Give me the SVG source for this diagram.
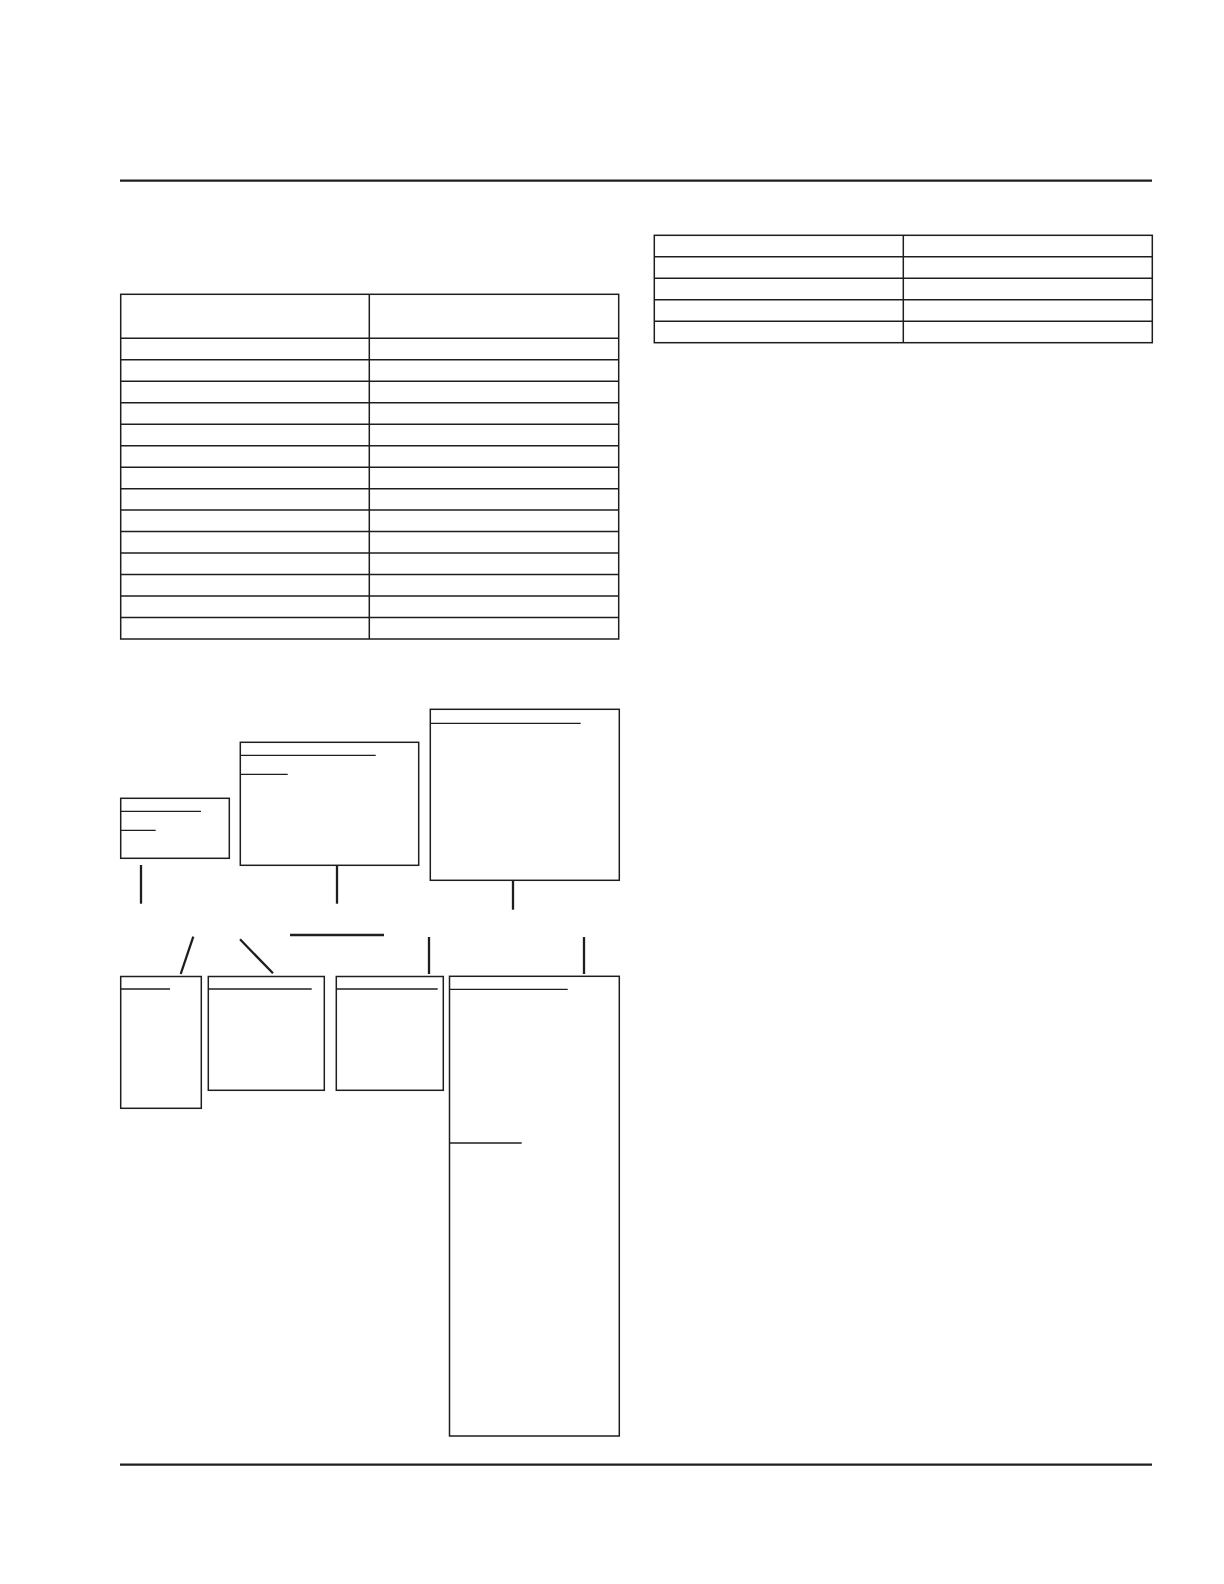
<svg xmlns="http://www.w3.org/2000/svg" width="1224" height="1584" viewBox="0 0 1224 1584">
<style>
.t{fill:none;stroke:#1e1e1e;stroke-width:1.5}
.b{fill:#fff;stroke:#1e1e1e;stroke-width:1.5}
.u{stroke:#1e1e1e;stroke-width:1.3}
.c{stroke:#1e1e1e;stroke-width:2.3}
.r{stroke:#1e1e1e;stroke-width:2.2}
</style>
<rect width="1224" height="1584" fill="#fff"/>
<g id="rules">
<line class="r" x1="120" y1="180.7" x2="1152" y2="180.7"/>
<line class="r" x1="120" y1="1464.7" x2="1152" y2="1464.7"/>
</g>
<g id="table-left">
<rect class="t" x="120.7" y="294.3" width="498" height="344.7"/>
<line class="t" x1="369.3" y1="294.3" x2="369.3" y2="639"/>
<line class="t" x1="120.7" y1="338.3" x2="618.7" y2="338.3"/>
<line class="t" x1="120.7" y1="359.8" x2="618.7" y2="359.8"/>
<line class="t" x1="120.7" y1="381.3" x2="618.7" y2="381.3"/>
<line class="t" x1="120.7" y1="402.7" x2="618.7" y2="402.7"/>
<line class="t" x1="120.7" y1="424.2" x2="618.7" y2="424.2"/>
<line class="t" x1="120.7" y1="445.7" x2="618.7" y2="445.7"/>
<line class="t" x1="120.7" y1="467.2" x2="618.7" y2="467.2"/>
<line class="t" x1="120.7" y1="488.7" x2="618.7" y2="488.7"/>
<line class="t" x1="120.7" y1="510.1" x2="618.7" y2="510.1"/>
<line class="t" x1="120.7" y1="531.6" x2="618.7" y2="531.6"/>
<line class="t" x1="120.7" y1="553.1" x2="618.7" y2="553.1"/>
<line class="t" x1="120.7" y1="574.6" x2="618.7" y2="574.6"/>
<line class="t" x1="120.7" y1="596.0" x2="618.7" y2="596.0"/>
<line class="t" x1="120.7" y1="617.5" x2="618.7" y2="617.5"/>
</g>
<g id="table-right">
<rect class="t" x="654.3" y="235.3" width="498" height="107.4"/>
<line class="t" x1="903.3" y1="235.3" x2="903.3" y2="342.7"/>
<line class="t" x1="654.3" y1="256.8" x2="1152.3" y2="256.8"/>
<line class="t" x1="654.3" y1="278.3" x2="1152.3" y2="278.3"/>
<line class="t" x1="654.3" y1="299.8" x2="1152.3" y2="299.8"/>
<line class="t" x1="654.3" y1="321.2" x2="1152.3" y2="321.2"/>
</g>
<g id="connectors">
<line class="c" x1="141" y1="865" x2="141" y2="903.7"/>
<line class="c" x1="337" y1="865.3" x2="337" y2="903.7"/>
<line class="c" x1="513" y1="880.3" x2="513" y2="909.7"/>
<line class="c" x1="290" y1="935" x2="384" y2="935"/>
<line class="c" x1="193.3" y1="936.7" x2="180.7" y2="974"/>
<line class="c" x1="240" y1="939.3" x2="273" y2="973.3"/>
<line class="c" x1="429" y1="937" x2="429" y2="974"/>
<line class="c" x1="584" y1="937" x2="584" y2="974"/>
</g>
<g id="node-top-small">
<rect class="b" x="120.7" y="798.3" width="108.6" height="60"/>
<line class="u" x1="120.7" y1="811.3" x2="201" y2="811.3"/>
<line class="u" x1="120.7" y1="830.3" x2="155.7" y2="830.3"/>
</g>
<g id="node-top-middle">
<rect class="b" x="240.3" y="742.3" width="178.4" height="123"/>
<line class="u" x1="240.3" y1="755.3" x2="375.7" y2="755.3"/>
<line class="u" x1="240.3" y1="774.3" x2="287.7" y2="774.3"/>
</g>
<g id="node-top-right">
<rect class="b" x="430.3" y="709.3" width="189" height="171"/>
<line class="u" x1="430.3" y1="723.3" x2="580.7" y2="723.3"/>
</g>
<g id="node-bottom-a">
<rect class="b" x="120.7" y="976.5" width="80.6" height="131.8"/>
<line class="u" x1="120.7" y1="989" x2="170" y2="989"/>
</g>
<g id="node-bottom-b">
<rect class="b" x="208.3" y="976.5" width="116" height="113.8"/>
<line class="u" x1="208.3" y1="989" x2="311.7" y2="989"/>
</g>
<g id="node-bottom-c">
<rect class="b" x="336.3" y="976.5" width="107" height="113.8"/>
<line class="u" x1="336.3" y1="989" x2="437.7" y2="989"/>
</g>
<g id="node-bottom-d">
<rect class="b" x="449.5" y="976.3" width="169.8" height="459.7"/>
<line class="u" x1="449.5" y1="989.3" x2="567.7" y2="989.3"/>
<line class="u" x1="449.5" y1="1143" x2="521.7" y2="1143"/>
</g>
</svg>
